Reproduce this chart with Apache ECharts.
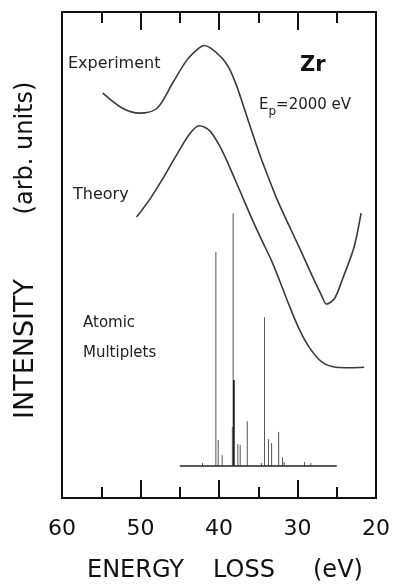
<!DOCTYPE html>
<html><head><meta charset="utf-8">
<script src="https://cdn.jsdelivr.net/npm/echarts@6/dist/echarts.min.js"></script>
<style>html,body{margin:0;padding:0;background:#fff}#c{width:393px;height:584px}</style>
</head><body><div id="c"></div>
<script>
// Energy loss (eV) and intensity (arb. units, 0-100 frame scale)
const expEnergy    = [54.8, 52.3, 50.1, 47.9, 45.9, 44.1, 42.6, 41.9, 41.1, 39.6, 38.7, 37.8, 37.0, 36.1, 35.2, 34.5, 33.6, 32.7, 31.3, 29.5, 28.1, 27.0, 26.3, 25.3, 24.3, 22.8, 21.9];
const expIntensity = [83.3, 80.2, 79.2, 80.2, 85.4, 90.1, 92.5, 93.1, 92.6, 90.5, 88.4, 85.0, 81.2, 76.8, 72.5, 69.3, 65.5, 61.8, 56.8, 50.6, 45.6, 41.9, 39.9, 41.0, 44.9, 51.6, 58.6];

const theoEnergy    = [50.5, 48.8, 47.2, 45.4, 43.7, 42.5, 41.2, 39.9, 38.7, 37.1, 35.9, 34.6, 33.3, 32.3, 31.0, 29.8, 28.5, 26.9, 25.1, 23.3, 21.5];
const theoIntensity = [57.8, 61.5, 65.6, 70.6, 75.0, 76.6, 75.6, 72.4, 68.3, 62.3, 57.8, 53.2, 48.8, 44.8, 39.4, 34.8, 31.0, 28.0, 26.9, 26.8, 26.9];

// Atomic multiplets: line positions and strengths above the stick baseline
const stickBase     = 6.6;
const stickRange    = [45, 25];
const stickEnergy   = [42.1, 40.4, 40.1, 39.6, 38.3, 38.2, 38.1, 37.6, 37.3, 36.4, 34.6, 34.2, 33.7, 33.3, 32.4, 31.9, 31.7, 29.1, 28.3];
const stickHeight   = [0.6, 44.0, 5.3, 2.2, 8.0, 52.0, 17.7, 4.5, 4.3, 9.2, 0.6, 30.6, 5.5, 4.7, 7.0, 1.8, 0.8, 0.8, 0.6];

const xTicks = [20, 30, 40, 50, 60];

const chart = echarts.init(document.getElementById('c'));
const F = 'DejaVu Sans';
const axisCommon = {
  type: 'value', min: 20, max: 60, interval: 10, inverse: true,
  axisLine: {show: true, onZero: false, lineStyle: {color: '#111', width: 2}},
  axisTick: {show: true, inside: true, length: 18, lineStyle: {color: '#111', width: 2}},
  minorTick: {show: true, splitNumber: 2, length: 11, lineStyle: {color: '#111', width: 2}},
  splitLine: {show: false}
};
const yCommon = {
  type: 'value', min: 0, max: 100, show: true,
  axisLine: {show: true, onZero: false, lineStyle: {color: '#111', width: 2}},
  axisTick: {show: false}, axisLabel: {show: false}, splitLine: {show: false}
};
chart.setOption({
  animation: false,
  backgroundColor: '#fff',
  grid: {left: 62, right: 16, top: 12, bottom: 86, show: true, borderColor: '#111', borderWidth: 2},
  xAxis: [
    Object.assign({}, axisCommon, {position: 'bottom',
      axisLabel: {show: true, margin: 20, fontSize: 22, color: '#111', fontFamily: F,
        formatter: v => xTicks.includes(v) ? String(v) : ''}}),
    Object.assign({}, axisCommon, {position: 'top', axisLabel: {show: false}})
  ],
  yAxis: [
    Object.assign({}, yCommon, {position: 'left'}),
    Object.assign({}, yCommon, {position: 'right'})
  ],
  series: [
    {name: 'Experiment', type: 'line', smooth: 0.3, symbol: 'none',
     data: expEnergy.map((e, i) => [e, expIntensity[i]]),
     lineStyle: {color: '#3a3a3a', width: 1.6}},
    {name: 'Theory', type: 'line', smooth: 0.3, symbol: 'none',
     data: theoEnergy.map((e, i) => [e, theoIntensity[i]]),
     lineStyle: {color: '#3a3a3a', width: 1.6}},
    {name: 'Baseline', type: 'line', symbol: 'none',
     data: stickRange.map(e => [e, stickBase]),
     lineStyle: {color: '#222', width: 1.5}},
    {name: 'Atomic Multiplets', type: 'custom',
     data: stickEnergy.map((e, i) => [e, stickHeight[i]]),
     encode: {x: 0, y: 1},
     renderItem: function (params, api) {
       const e = api.value(0), h = api.value(1);
       const p0 = api.coord([e, stickBase]);
       const p1 = api.coord([e, stickBase + h]);
       const strong = h > 15 && h < 20;
       return {type: 'line', shape: {x1: p0[0], y1: p0[1], x2: p1[0], y2: p1[1]},
               style: {stroke: strong ? '#111' : '#555', lineWidth: strong ? 1.6 : 1}};
     }}
  ],
  graphic: [
    {type: 'text', left: 68, top: 56, style: {text: 'Experiment', font: '16px "DejaVu Sans"', fill: '#222'}},
    {type: 'text', left: 73, top: 187, style: {text: 'Theory', font: '16px "DejaVu Sans"', fill: '#222'}},
    {type: 'text', left: 83, top: 316, style: {text: 'Atomic', font: '15px "DejaVu Sans"', fill: '#222'}},
    {type: 'text', left: 83, top: 346, style: {text: 'Multiplets', font: '15px "DejaVu Sans"', fill: '#222'}},
    {type: 'text', left: 300, top: 55, style: {text: 'Zr', font: 'bold 21px "DejaVu Sans"', fill: '#111'}},
    {type: 'text', left: 259, top: 98, style: {
      text: '{e|E}{s|p}{e|=2000 eV}',
      rich: {e: {fontSize: 15, fontFamily: F, fill: '#222', verticalAlign: 'top'},
             s: {fontSize: 12, fontFamily: F, fill: '#222', padding: [8, 0, 0, 0]}}}},
    {type: 'text', x: 26, y: 349, rotation: Math.PI / 2, style: {text: 'INTENSITY', font: '27px "DejaVu Sans"', fill: '#111', align: 'center', verticalAlign: 'middle'}},
    {type: 'text', x: 26, y: 148, rotation: Math.PI / 2, style: {text: '(arb. units)', font: '24px "DejaVu Sans"', fill: '#111', align: 'center', verticalAlign: 'middle'}},
    {type: 'text', left: 87, top: 559, style: {text: 'ENERGY', font: '24px "DejaVu Sans"', fill: '#111'}},
    {type: 'text', left: 213, top: 559, style: {text: 'LOSS', font: '24px "DejaVu Sans"', fill: '#111'}},
    {type: 'text', left: 313, top: 559, style: {text: '(eV)', font: '24px "DejaVu Sans"', fill: '#111'}}
  ]
});
</script>
</body></html>
